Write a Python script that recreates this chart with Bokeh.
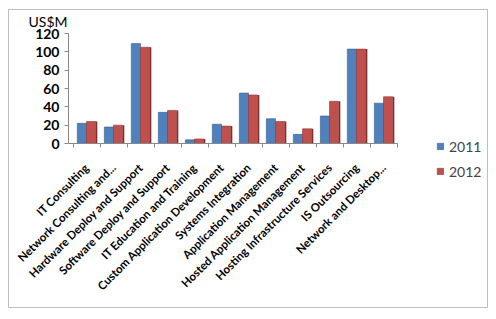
from bokeh.plotting import figure
from bokeh.models import ColumnDataSource, Range1d, Legend, LegendItem, Label, FixedTicker
from bokeh.transform import dodge
from bokeh.embed import file_html
from bokeh.resources import INLINE
import math

categories = ["IT Consulting", "Network Consulting and...", "Hardware Deploy and Support",
              "Software Deploy and Support", "IT Education and Training",
              "Custom Application Development", "Systems Integration",
              "Application Management", "Hosted Application Management",
              "Hosting Infrastructure Services", "IS Outsourcing", "Network and Desktop..."]
v2011 = [22, 18, 109, 34, 4, 21, 55, 27, 10, 30, 103, 44]
v2012 = [24, 20, 105, 36, 5, 19, 53, 24, 16, 46, 103, 51]
years = ["2011", "2012"]
y_ticks = [0, 20, 40, 60, 80, 100, 120]
unit_label = "US$M"

n = len(categories)
idx = list(range(n))
src = ColumnDataSource(dict(x=idx, cat=categories, a=v2011, b=v2012))

p = figure(width=496, height=319, x_range=Range1d(-2.889, 14.85),
           y_range=Range1d(-178.9, 146.2), output_backend="svg", toolbar_location=None,
           min_border_left=8, min_border_right=9, min_border_top=9, min_border_bottom=12)
p.outline_line_color = "#bfbfbf"
p.outline_line_width = 1
p.xgrid.grid_line_color = None
p.ygrid.grid_line_color = None

blue = "#4F81BD"
red = "#C0504D"
r1 = p.vbar(x=dodge("x", -0.17), top="a", width=0.34, source=src, fill_color=blue,
            line_color="#385d8a", line_width=0.6)
p.vbar(x=dodge("x", 0.37), top="b", width=0.06, source=src, fill_color="#7f2f2d",
       line_color=None)
r2 = p.vbar(x=dodge("x", 0.17), top="b", width=0.34, source=src, fill_color=red,
            line_color="#8c3836", line_width=0.6)

# y axis
p.yaxis.fixed_location = -0.667
p.yaxis.bounds = (0, 120)
p.yaxis.ticker = FixedTicker(ticks=y_ticks)
p.yaxis.major_label_text_font = "Lato"
p.yaxis.major_label_text_font_style = "bold"
p.yaxis.major_label_text_font_size = "14px"
p.yaxis.major_label_text_color = "#000000"
p.yaxis.axis_line_color = "#888888"
p.yaxis.major_tick_line_color = "#888888"
p.yaxis.minor_tick_line_color = None
p.yaxis.major_tick_in = 0
p.yaxis.major_tick_out = 4

# x axis
p.xaxis.fixed_location = 0
p.xaxis.bounds = (-0.667, n - 0.5)
p.xaxis.ticker = FixedTicker(ticks=idx, minor_ticks=[i - 0.5 for i in range(n + 1)])
p.xaxis.major_label_overrides = {i: c for i, c in enumerate(categories)}
p.xaxis.major_label_orientation = math.pi / 4
p.xaxis.major_label_standoff = 16
p.xaxis.major_label_text_font = "Lato"
p.xaxis.major_label_text_font_style = "bold"
p.xaxis.major_label_text_font_size = "11.5px"
p.xaxis.major_label_text_color = "#000000"
p.xaxis.axis_line_color = "#888888"
p.xaxis.major_tick_line_color = None
p.xaxis.minor_tick_line_color = "#888888"
p.xaxis.minor_tick_in = 0
p.xaxis.minor_tick_out = 4

legend = Legend(items=[LegendItem(label=years[0], renderers=[r1]),
                       LegendItem(label=years[1], renderers=[r2])],
                location=(428, 126), border_line_color=None, background_fill_alpha=0,
                padding=5, spacing=5, glyph_width=8, glyph_height=8, label_height=20,
                label_text_font="Lato", label_text_font_size="14px")
p.add_layout(legend)

p.add_layout(Label(x=-2.148, y=123.3, text=unit_label,
                   text_font="Lato", text_font_size="14px", text_color="#000000"))

open("out.html", "w").write(file_html(p, INLINE))
